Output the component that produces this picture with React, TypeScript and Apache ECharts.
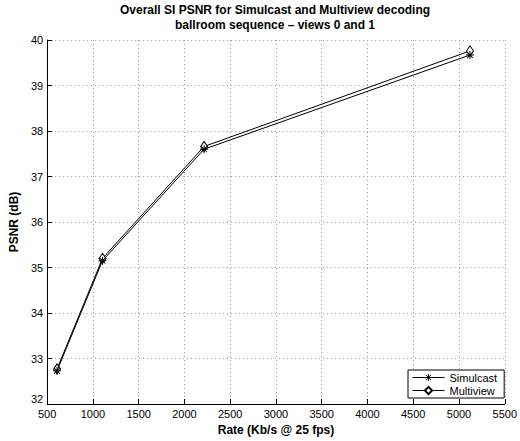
import React, { useEffect, useRef } from "react";
import * as echarts from "echarts";

const titleLines = [
  "Overall SI PSNR for Simulcast and Multiview decoding",
  "ballroom sequence \u2013 views 0 and 1",
];
const xName = "Rate (Kb/s @ 25 fps)";
const yName = "PSNR (dB)";
const seriesNames = ["Simulcast", "Multiview"];
const rates = [608, 1105, 2215, 5120];
const simulcastPsnr = [32.73, 35.15, 37.6, 39.67];
const multiviewPsnr = [32.77, 35.2, 37.66, 39.76];

const asterisk =
  "path://M4.4,0L5.6,0L5.6,10L4.4,10Z" +
  "M0,4.4L10,4.4L10,5.6L0,5.6Z" +
  "M1.92,1.08L8.92,8.08L8.08,8.92L1.08,1.92Z" +
  "M8.92,1.92L1.92,8.92L1.08,8.08L8.08,1.08Z";

export default function App() {
  const ref = useRef<HTMLDivElement>(null);
  useEffect(() => {
    if (!ref.current) return;
    const chart = echarts.init(ref.current, null, { renderer: "svg" });
    const font = "'Liberation Sans', Arial, Helvetica, sans-serif";
    const mk = (vals: number[]) => rates.map((r, i) => [r, vals[i]]);
    chart.setOption({
      animation: false,
      backgroundColor: "#fff",
      textStyle: { fontFamily: font },
      graphic: titleLines.map((t, i) => ({
        type: "text",
        x: 275,
        y: 10 + i * 15,
        style: {
          text: t,
          textAlign: "center",
          textVerticalAlign: "middle",
          font: `bold 12px ${font}`,
          fill: "#000",
        },
      })),
      grid: { left: 42, right: 12, top: 40, bottom: 36 },
      xAxis: {
        type: "value",
        min: 500,
        max: 5500,
        interval: 500,
        name: xName,
        nameLocation: "middle",
        nameGap: 20,
        nameTextStyle: { fontWeight: "bold", fontSize: 12, color: "#000", fontFamily: font },
        axisLine: { onZero: false, lineStyle: { color: "#000", width: 1 } },
        axisTick: { inside: true, length: 5, lineStyle: { color: "#000" } },
        axisLabel: {
          margin: 4,
          fontSize: 11,
          color: "#000",
          fontFamily: font,
          formatter: (v: number) => String(v),
        },
        splitLine: { show: true, lineStyle: { color: "#999", type: [1, 3], width: 1 } },
      },
      yAxis: {
        type: "value",
        min: 32,
        max: 40,
        interval: 1,
        name: yName,
        nameLocation: "middle",
        nameGap: 19,
        nameTextStyle: { fontWeight: "bold", fontSize: 12, color: "#000", fontFamily: font },
        axisLine: { show: true, onZero: false, lineStyle: { color: "#000", width: 1 } },
        axisTick: { show: true, inside: true, length: 5, lineStyle: { color: "#000" } },
        axisLabel: {
          margin: 4,
          fontSize: 11,
          color: "#000",
          fontFamily: font,
          formatter: (v: number) => (v === 32 ? `{lo|${v}}` : String(v)),
          rich: { lo: { padding: [0, 0, 10, 0], fontSize: 11, color: "#000", fontFamily: font } },
        },
        splitLine: { show: true, lineStyle: { color: "#999", type: [1, 3], width: 1 } },
      },
      legend: {
        left: 408,
        top: 370,
        orient: "vertical",
        backgroundColor: "#fff",
        borderColor: "#000",
        borderWidth: 1,
        borderRadius: 0,
        padding: [2, 7, 2, 4],
        itemGap: 2,
        itemWidth: 32,
        itemHeight: 9,
        lineStyle: { width: 1 },
        textStyle: { fontSize: 11, color: "#000", fontFamily: font },
        data: seriesNames,
      },
      series: [
        {
          name: seriesNames[0],
          type: "line",
          data: mk(simulcastPsnr),
          symbol: asterisk,
          symbolSize: 8,
          lineStyle: { color: "#000", width: 1 },
          itemStyle: { color: "#000", borderWidth: 0 },
          z: 3,
        },
        {
          name: seriesNames[1],
          type: "line",
          data: mk(multiviewPsnr),
          symbol: "diamond",
          symbolSize: [7, 10],
          lineStyle: { color: "#000", width: 1 },
          itemStyle: { color: "#fff", borderColor: "#000", borderWidth: 1 },
          z: 2,
        },
      ],
    });
    return () => chart.dispose();
  }, []);
  return (
    <div
      ref={ref}
      style={{ position: "absolute", left: 0, top: 0, width: 520, height: 441 }}
    />
  );
}
